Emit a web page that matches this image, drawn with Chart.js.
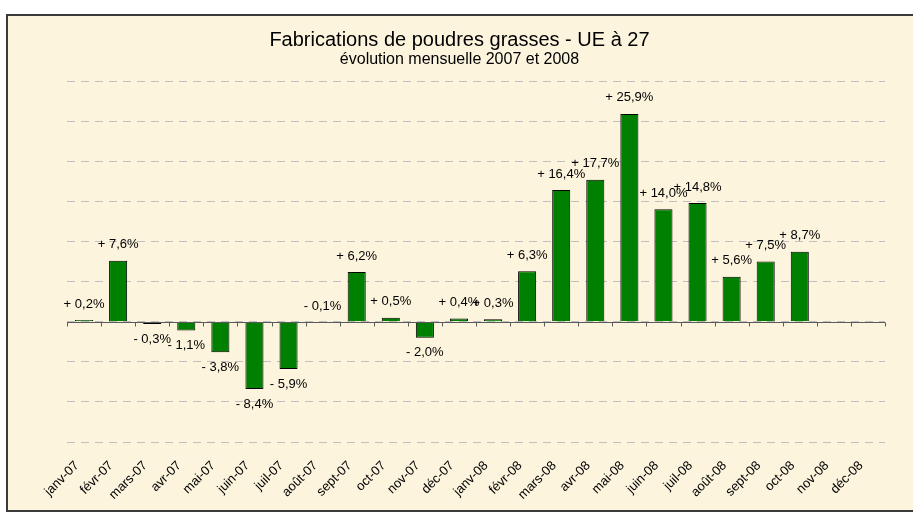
<!DOCTYPE html>
<html lang="fr">
<head>
    <meta charset="UTF-8">
    <title>Fabrications de poudres grasses - UE à 27</title>
    <script src="https://cdn.jsdelivr.net/npm/chart.js"></script>
    <style>
        body { margin: 0; background: #fff; }
        #frame {
            position: absolute; left: 6px; top: 14px;
            width: 920px; height: 494px;
            border: 2px solid #3a3a3a;
            background: #FCF4DD;
        }
        #c { position: absolute; left: 0; top: 0; }
    </style>
</head>
<body>

<div id="frame"><canvas id="c" width="903" height="494"></canvas></div>

<script>
    const months = ['janv-07', 'févr-07', 'mars-07', 'avr-07', 'mai-07', 'juin-07',
                    'juil-07', 'août-07', 'sept-07', 'oct-07', 'nov-07', 'déc-07',
                    'janv-08', 'févr-08', 'mars-08', 'avr-08', 'mai-08', 'juin-08',
                    'juil-08', 'août-08', 'sept-08', 'oct-08', 'nov-08', 'déc-08'];
    // variation mensuelle en %
    const evolution = [0.2, 7.6, -0.3, -1.1, -3.8, -8.4, -5.9, -0.1, 6.2, 0.5, -2.0, 0.4,
                       0.3, 6.3, 16.4, 17.7, 25.9, 14.0, 14.8, 5.6, 7.5, 8.7, null, null];

    const FONT = "'Liberation Sans', Arial, sans-serif";

    function fmt(v) {
        return (v >= 0 ? '+ ' : '- ') + Math.abs(v).toFixed(1).replace('.', ',') + '%';
    }

    // axe du zéro + petites graduations, puis étiquettes de données
    const excelBits = {
        id: 'excelBits',
        afterDatasetsDraw(chart) {
            const ctx = chart.ctx;
            const x = chart.scales.x, y = chart.scales.y;
            const y0 = Math.round(y.getPixelForValue(0)) + 0.5;
            const step = (x.right - x.left) / months.length;
            ctx.save();
            ctx.strokeStyle = '#5a5a5a';
            ctx.lineWidth = 1;
            ctx.beginPath();
            ctx.moveTo(x.left, y0);
            ctx.lineTo(x.right, y0);
            for (let i = 0; i <= months.length; i++) {
                const tx = Math.round(x.left + i * step) + 0.5;
                ctx.moveTo(tx, y0);
                ctx.lineTo(tx, y0 + 4);
            }
            ctx.stroke();

            ctx.fillStyle = '#000';
            ctx.font = '13px ' + FONT;
            ctx.textAlign = 'center';
            ctx.textBaseline = 'middle';
            const meta = chart.getDatasetMeta(0);
            meta.data.forEach((bar, i) => {
                const v = evolution[i];
                if (v === null) return;
                const end = y.getPixelForValue(v);
                const above = v > -0.2;
                const ly = above ? Math.min(end, y0) - 16 : end + 15;
                ctx.fillText(fmt(v), bar.x, ly);
            });
            ctx.restore();
        }
    };

    const ctx = document.getElementById('c').getContext('2d');
    new Chart(ctx, {
        type: 'bar',
        data: {
            labels: months,
            datasets: [{
                data: evolution,
                backgroundColor: '#008000',
                borderColor: '#000',
                borderWidth: 1,
                barPercentage: 0.53,
                categoryPercentage: 1
            }]
        },
        options: {
            responsive: false,
            animation: false,
            devicePixelRatio: 1,
            layout: { padding: 0 },
            plugins: {
                legend: { display: false },
                tooltip: { enabled: false },
                title: {
                    display: true,
                    text: 'Fabrications de poudres grasses - UE à 27',
                    color: '#000',
                    font: { family: FONT, size: 20, weight: 'normal', lineHeight: 1 },
                    padding: { top: 14, bottom: 0 }
                },
                subtitle: {
                    display: true,
                    text: 'évolution mensuelle 2007 et 2008',
                    color: '#000',
                    font: { family: FONT, size: 16, weight: 'normal', lineHeight: 1 },
                    padding: { top: 2, bottom: 13 }
                }
            },
            scales: {
                x: {
                    grid: { display: false, drawTicks: false },
                    border: { display: false },
                    ticks: {
                        color: '#000',
                        font: { family: FONT, size: 13 },
                        minRotation: 45,
                        maxRotation: 45,
                        autoSkip: false,
                        padding: 16,
                        labelOffset: -7
                    },
                    afterFit(scale) { scale.height = 68; }
                },
                y: {
                    min: -15,
                    max: 30,
                    ticks: { display: false, stepSize: 5 },
                    grid: { color: '#c0c0c0', lineWidth: 1, drawTicks: false },
                    border: { display: false, dash: [8, 6] },
                    afterFit(scale) { scale.width = 59; }
                },
                // marge droite seulement (le titre reste centré sur tout le cadre)
                yRight: {
                    type: 'linear',
                    position: 'right',
                    ticks: { display: false },
                    grid: { display: false, drawTicks: false },
                    border: { display: false },
                    afterFit(scale) { scale.width = 26; }
                }
            }
        },
        plugins: [excelBits]
    });
</script>

</body>
</html>
